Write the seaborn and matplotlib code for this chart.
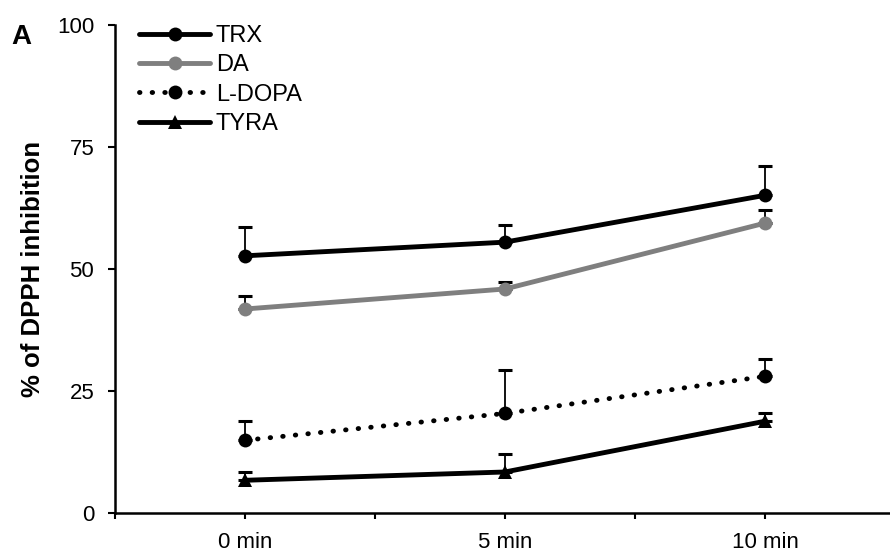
import matplotlib
matplotlib.use("Agg")
import matplotlib.pyplot as plt
import seaborn as sns
import pandas as pd
import numpy as np
from matplotlib.lines import Line2D

sns.set_theme(style="ticks")
plt.rcParams['font.family'] = ['Liberation Sans', 'DejaVu Sans']
plt.rcParams['text.color'] = 'black'
plt.rcParams['axes.labelcolor'] = 'black'
plt.rcParams['xtick.color'] = 'black'
plt.rcParams['ytick.color'] = 'black'

times = ["0 min", "5 min", "10 min"]
trx = [52.7, 55.5, 65.1]
trx_err = [6.0, 3.5, 6.0]
da = [41.8, 45.9, 59.4]
da_err = [2.7, 1.5, 2.6]
ldopa = [14.9, 20.4, 28.0]
ldopa_err = [4.0, 8.8, 3.6]
tyra = [6.7, 8.4, 18.8]
tyra_err = [1.6, 3.6, 1.6]

series = [
    ("TRX", trx, trx_err, "black", "-", "o"),
    ("DA", da, da_err, "#7f7f7f", "-", "o"),
    ("L-DOPA", ldopa, ldopa_err, "black", ":", "o"),
    ("TYRA", tyra, tyra_err, "black", "-", "^"),
]

LW = 3.5
DOT = (0.1, 2.5)

fig = plt.figure(figsize=(8.9, 5.52), dpi=100)
ax = fig.add_axes([0.1292, 0.0707, 0.8764, 0.884])

x = np.arange(len(times))
handles = []
for name, vals, errs, color, ls, mk in series:
    df = pd.DataFrame({"x": x, "y": vals})
    ax.errorbar(x, vals, yerr=[np.zeros(len(vals)), errs], fmt="none",
                ecolor="black", elinewidth=1.3, capsize=4.7, capthick=2.2, zorder=1)
    sns.lineplot(data=df, x="x", y="y", ax=ax, color=color, linewidth=LW,
                 marker=mk, markersize=10, markeredgewidth=0, legend=False, zorder=3)
    line = ax.lines[-1]
    h = Line2D([0], [0], color=color, lw=LW, marker=mk, markersize=10,
               markeredgewidth=0)
    if ls == ":":
        for l in (line, h):
            l.set_dashes(DOT)
            l.set_dash_capstyle("round")
    handles.append(h)

ax.set_xlim(-0.5, 2.5)
ax.set_ylim(0, 100)
ax.set_yticks([0, 25, 50, 75, 100])
ax.set_xticks(x)
ax.set_xticklabels(times, fontsize=16)
ax.set_xticks([-0.5, 0.5, 1.5, 2.5], minor=True)
ax.tick_params(axis="x", which="both", direction="out", length=4.5, width=1.5)
ax.tick_params(axis="x", which="major", pad=9)
ax.tick_params(axis="y", direction="out", length=5, width=1.5, labelsize=16, pad=10)
ax.set_xlabel("")
ax.set_ylabel("% of DPPH inhibition", fontsize=18.5, fontweight="bold")
ax.yaxis.set_label_coords(-0.09, 0.5)
for s in ["top", "right"]:
    ax.spines[s].set_visible(False)
for s in ["left", "bottom"]:
    ax.spines[s].set_linewidth(1.8)
    ax.spines[s].set_color("black")

leg = ax.legend(handles, [s[0] for s in series], loc="upper left",
                bbox_to_anchor=(0.031, 1.0), frameon=False, fontsize=17,
                handlelength=3.0, labelspacing=0.31, handletextpad=0.25,
                borderaxespad=0, borderpad=0)

fig.text(0.013, 0.92, "A", fontsize=20, fontweight="bold")

fig.savefig("out.png", dpi=100)
